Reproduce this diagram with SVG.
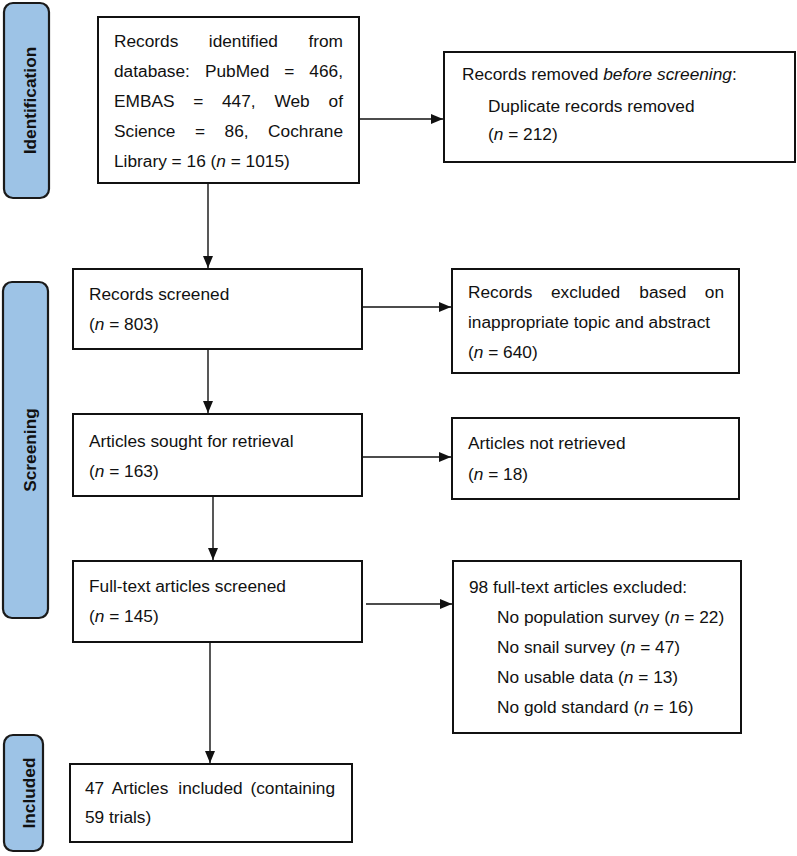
<svg xmlns="http://www.w3.org/2000/svg" width="797" height="856" viewBox="0 0 797 856">
<style>
text{font-family:"Liberation Sans",Arial,sans-serif;font-size:17.3px;fill:#111}
.box{fill:#fff;stroke:#111;stroke-width:2}
.pill{fill:#9dc3e6;stroke:#1a1a1a;stroke-width:2.2}
.lbl{font-weight:bold;text-anchor:middle}
.e{text-anchor:end}
.con{stroke:#111;stroke-width:1.4;fill:none;marker-end:url(#ah)}
</style>
<defs>
<marker id="ah" markerUnits="userSpaceOnUse" markerWidth="13" markerHeight="11" refX="12" refY="5" orient="auto">
<path d="M0,0 L12,5 L0,10 z" fill="#111"/>
</marker>
</defs>
<rect width="797" height="856" fill="#fff"/>

<g id="phase-identification">
<rect class="pill" x="4" y="3" width="45" height="195" rx="9"/>
<text class="lbl" transform="translate(36,100.5) rotate(-90)">Identification</text>
</g>
<g id="phase-screening">
<rect class="pill" x="3" y="282" width="45" height="336" rx="9"/>
<text class="lbl" transform="translate(35.5,450) rotate(-90)">Screening</text>
</g>
<g id="phase-included">
<rect class="pill" x="4" y="735" width="39" height="116" rx="9"/>
<text class="lbl" transform="translate(34.5,793) rotate(-90)">Included</text>
</g>

<g id="identified">
<rect class="box" x="98" y="17" width="261" height="166"/>
<text y="47"><tspan x="114">Records</tspan><tspan x="208.8">identified</tspan></text>
<text class="e" x="343" y="47">from</text>
<text y="77"><tspan x="114">database:</tspan><tspan x="204.9">PubMed</tspan><tspan x="284.2">=</tspan></text>
<text class="e" x="343" y="77">466,</text>
<text y="107"><tspan x="114">EMBAS</tspan><tspan x="193.2">=</tspan><tspan x="222">447,</tspan><tspan x="274.4">Web</tspan></text>
<text class="e" x="343" y="107">of</text>
<text y="137"><tspan x="114">Science</tspan><tspan x="195">=</tspan><tspan x="224.6">86,</tspan></text>
<text class="e" x="343" y="137">Cochrane</text>
<text x="114" y="167">Library = 16 (<tspan font-style="italic">n</tspan> = 1015)</text>
</g>

<g id="removed">
<rect class="box" x="444" y="52" width="351" height="110"/>
<text x="462" y="80">Records removed <tspan font-style="italic">before screening</tspan>:</text>
<text x="488" y="112">Duplicate records removed</text>
<text x="488" y="140">(<tspan font-style="italic">n</tspan> = 212)</text>
</g>

<g id="screened">
<rect class="box" x="73" y="269" width="289" height="80"/>
<text x="89" y="300">Records screened</text>
<text x="89" y="330">(<tspan font-style="italic">n</tspan> = 803)</text>
</g>

<g id="excluded">
<rect class="box" x="452" y="269" width="287" height="104"/>
<text y="298"><tspan x="468">Records</tspan><tspan x="551">excluded</tspan><tspan x="639.3">based</tspan></text>
<text class="e" x="724" y="298">on</text>
<text x="468" y="328">inappropriate topic and abstract</text>
<text x="468" y="358">(<tspan font-style="italic">n</tspan> = 640)</text>
</g>

<g id="sought">
<rect class="box" x="73" y="414" width="289" height="82"/>
<text x="89" y="447">Articles sought for retrieval</text>
<text x="89" y="477">(<tspan font-style="italic">n</tspan> = 163)</text>
</g>

<g id="not-retrieved">
<rect class="box" x="452" y="418" width="287" height="81"/>
<text x="468" y="449">Articles not retrieved</text>
<text x="468" y="480">(<tspan font-style="italic">n</tspan> = 18)</text>
</g>

<g id="fulltext">
<rect class="box" x="73" y="561" width="289" height="81"/>
<text x="89" y="592">Full-text articles screened</text>
<text x="89" y="622">(<tspan font-style="italic">n</tspan> = 145)</text>
</g>

<g id="fulltext-excluded">
<rect class="box" x="453" y="561" width="288" height="172"/>
<text x="469" y="593">98 full-text articles excluded:</text>
<text x="497" y="623">No population survey (<tspan font-style="italic">n</tspan> = 22)</text>
<text x="497" y="653">No snail survey (<tspan font-style="italic">n</tspan> = 47)</text>
<text x="497" y="683">No usable data (<tspan font-style="italic">n</tspan> = 13)</text>
<text x="497" y="713">No gold standard (<tspan font-style="italic">n</tspan> = 16)</text>
</g>

<g id="included">
<rect class="box" x="70" y="764" width="282" height="78"/>
<text y="794"><tspan x="85">47</tspan><tspan x="111.7">Articles</tspan><tspan x="178.3">included</tspan></text>
<text class="e" x="335" y="794">(containing</text>
<text x="85" y="823">59 trials)</text>
</g>

<g id="connectors">
<line class="con" x1="208" y1="183" x2="208" y2="268"/>
<line class="con" x1="359" y1="119" x2="443" y2="119"/>
<line class="con" x1="362" y1="307" x2="451" y2="307"/>
<line class="con" x1="208" y1="349" x2="208" y2="413"/>
<line class="con" x1="362" y1="457" x2="451" y2="457"/>
<line class="con" x1="213" y1="496" x2="213" y2="560"/>
<line class="con" x1="366" y1="604" x2="452" y2="604"/>
<line class="con" x1="210" y1="642" x2="210" y2="763"/>
</g>
</svg>
